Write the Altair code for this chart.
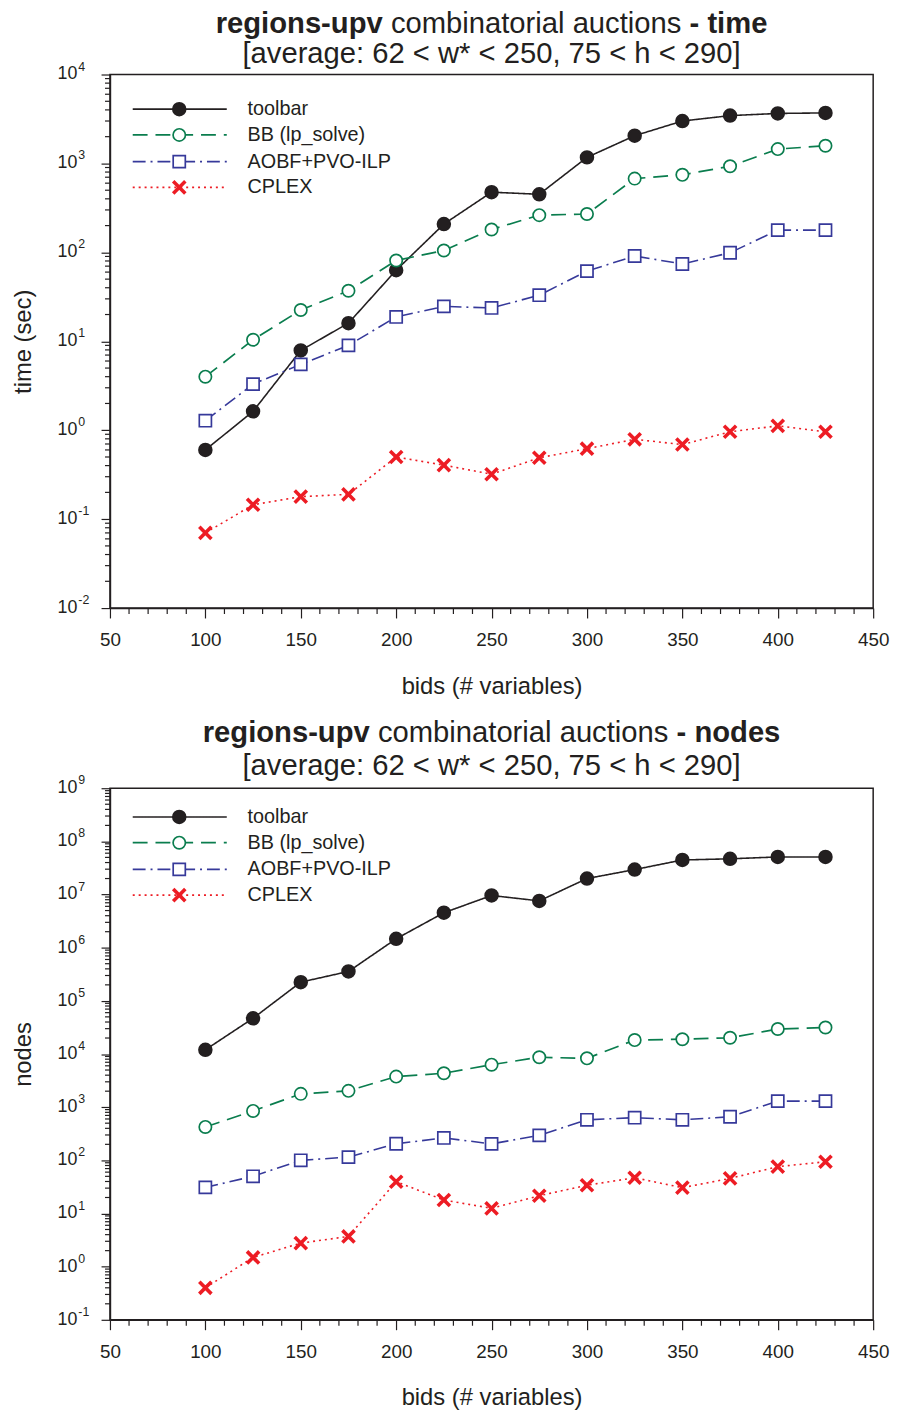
import altair as alt
import pandas as pd

# ---------------- data ----------------
bids = [100, 125, 150, 175, 200, 225, 250, 275, 300, 325, 350, 375, 400, 425]
series_names = ["toolbar", "BB (lp_solve)", "AOBF+PVO-ILP", "CPLEX"]

time_toolbar = [0.60, 1.63, 7.9, 16, 63, 208, 475, 450, 1170, 2050, 3000, 3450, 3650, 3700]
time_bb = [4.0, 10.4, 22.5, 37, 81, 105, 181, 262, 270, 675, 745, 930, 1450, 1580]
time_aobf = [1.28, 3.3, 5.5, 9.0, 18.8, 24.7, 23.7, 33, 61.5, 91, 74, 99, 178, 178]
time_cplex = [0.070, 0.145, 0.179, 0.19, 0.50, 0.405, 0.32, 0.49, 0.62, 0.79, 0.69, 0.96, 1.12, 0.96]

nodes_toolbar = [12000, 47000, 225000, 357000, 1.47e6, 4.55e6, 9.6e6, 7.6e6, 2.0e7, 2.95e7, 4.47e7, 4.7e7, 5.1e7, 5.1e7]
nodes_bb = [425, 850, 1780, 2030, 3760, 4350, 6300, 8700, 8300, 18300, 19000, 20200, 29500, 31500]
nodes_aobf = [31, 50, 100, 115, 205, 264, 204, 295, 578, 635, 578, 660, 1300, 1300]
nodes_cplex = [0.40, 1.49, 2.77, 3.7, 39.6, 17.9, 12.5, 21.6, 34, 47, 30.6, 45.7, 76, 94]

x_ticks_major = [50, 100, 150, 200, 250, 300, 350, 400, 450]
x_ticks_minor = [v for v in range(50, 451, 10) if v % 50 != 0]

# ---------------- styling ----------------
INK = "#231F20"
FONT = "Liberation Sans"
W = 771

styles = {
    "toolbar": dict(color=INK, dash=[1, 0], shape="circle", fill=INK, size=170, sw=1.6, lw=1.6),
    "BB (lp_solve)": dict(color="#0A7D4E", dash=[15, 8], shape="circle", fill="white", size=155, sw=1.7, lw=1.7),
    "AOBF+PVO-ILP": dict(color="#36399A", dash=[13, 5, 2, 5], shape="square", fill="white", size=150, sw=1.7, lw=1.6),
    "CPLEX": dict(color="#ED1C24", dash=[2, 4], shape="M-1,-1L1,1M1,-1L-1,1", fill=None, size=150, sw=3.6, lw=1.6),
}

# Arial / Liberation Sans advance widths (per 1000 em)
REG = {" ": 278, "a": 556, "b": 556, "c": 500, "d": 556, "e": 556, "i": 222, "l": 222,
       "m": 833, "n": 556, "o": 556, "r": 333, "s": 500, "t": 278, "u": 556}
BOLD = {" ": 278, "r": 389, "e": 556, "g": 611, "i": 278, "o": 611, "n": 611, "s": 556,
        "-": 333, "u": 611, "p": 611, "v": 556, "t": 333, "m": 889, "d": 611}


def tw(s, table, fs):
    return sum(table.get(ch, 556) for ch in s) * fs / 1000.0


def one_row_text(txt):
    return alt.Chart(pd.DataFrame({"t": [txt]}))


def marker_kw(st):
    kw = dict(shape=st["shape"], size=st["size"], stroke=st["color"], strokeWidth=st["sw"], opacity=1)
    if st["fill"] is None:
        kw.update(filled=False, fillOpacity=0)
    else:
        kw.update(filled=True, fill=st["fill"])
    return kw


def panel(vals, ytitle, e_lo, e_hi, H, bold2, legend_rows, t1y, t2y):
    df = pd.DataFrame({
        "bids": bids * 4,
        "value": vals[0] + vals[1] + vals[2] + vals[3],
        "series": sum([[s] * len(bids) for s in series_names], []),
    })
    xs = alt.Scale(domain=[50, 450], nice=False, zero=False)
    ys = alt.Scale(type="log", domain=[10.0 ** e_lo, 10.0 ** e_hi], nice=False)
    y_major = [float(f"1e{e}") for e in range(e_lo, e_hi + 1)]
    y_minor = [float(f"{n}e{k}") for k in range(e_lo, e_hi) for n in range(2, 10)]

    x_axis = alt.Axis(
        values=x_ticks_major, tickSize=10,
        labelFontSize=19, labelFont=FONT, labelColor=INK, labelPadding=13,
        labelOverlap=False, labelFlush=False,
        tickColor=INK, tickWidth=1.2, domainColor=INK, domainWidth=1.5, grid=False,
        title="bids (# variables)", titleFontSize=24, titleFont=FONT, titleFontWeight="normal",
        titleColor=INK, titlePadding=25,
    )
    y_axis = alt.Axis(
        values=y_major, labels=False, tickSize=9,
        tickColor=INK, tickWidth=1.2, domainColor=INK, domainWidth=1.5, grid=False,
        title=ytitle, titleFontSize=24, titleFont=FONT, titleFontWeight="normal",
        titleColor=INK, titlePadding=66,
    )

    def X(f):
        return alt.X(f, scale=xs, axis=x_axis)

    def Y(f):
        return alt.Y(f, scale=ys, axis=y_axis)

    layers = []
    # minor ticks (drawn from the scales)
    layers.append(alt.Chart(pd.DataFrame({"m": x_ticks_minor})).mark_rule(color=INK, strokeWidth=1.2).encode(
        x=X("m:Q"), y=alt.value(H), y2=alt.value(H + 6)))
    layers.append(alt.Chart(pd.DataFrame({"m": y_minor})).mark_rule(color=INK, strokeWidth=1.2).encode(
        y=Y("m:Q"), x=alt.value(0), x2=alt.value(-5)))

    for s in series_names:
        st = styles[s]
        sub = df[df["series"] == s]
        layers.append(alt.Chart(sub).mark_line(color=st["color"], strokeWidth=st["lw"],
                                               strokeDash=st["dash"]).encode(
            x=X("bids:Q"), y=Y("value:Q")))
    for s in series_names:
        st = styles[s]
        sub = df[df["series"] == s]
        layers.append(alt.Chart(sub).mark_point(**marker_kw(st)).encode(
            x=X("bids:Q"), y=Y("value:Q")))

    # y tick labels: 10 with superscript exponent
    exps = list(range(e_lo, e_hi + 1))
    dl = pd.DataFrame({"v": [float(f"1e{e}") for e in exps], "e": [str(e) for e in exps]})
    layers.append(alt.Chart(dl).mark_text(align="right", baseline="middle", fontSize=18,
                                          font=FONT, color=INK).encode(
        x=alt.value(-33), y=Y("v:Q"), text=alt.value("10")))
    layers.append(alt.Chart(dl).mark_text(align="left", baseline="middle", fontSize=12.5,
                                          font=FONT, color=INK, dy=-8).encode(
        x=alt.value(-32), y=Y("v:Q"), text="e:N"))

    # legend
    for i, s in enumerate(series_names):
        st = styles[s]
        ry = legend_rows[i]
        layers.append(one_row_text(s).mark_rule(color=st["color"], strokeWidth=st["lw"],
                                                strokeDash=st["dash"]).encode(
            x=alt.value(23), x2=alt.value(118), y=alt.value(ry)))
        layers.append(one_row_text(s).mark_point(**marker_kw(st)).encode(x=alt.value(70), y=alt.value(ry)))
        layers.append(one_row_text(s).mark_text(align="left", baseline="middle", fontSize=20,
                                                font=FONT, color=INK).encode(
            x=alt.value(139), y=alt.value(ry), text="t:N"))

    # title (mixed weight)
    fs = 29.5
    b1 = "regions-upv"
    mid = "combinatorial auctions"
    w1 = tw(b1, BOLD, fs)
    wm = tw(mid, REG, fs)
    w2 = tw(bold2, BOLD, fs)
    sp = 278 * fs / 1000.0
    total = w1 + sp + wm + sp + w2
    left = W / 2.0 - total / 2.0
    pieces = [(b1, "bold", left), (mid, "normal", left + w1 + sp), (bold2, "bold", left + w1 + sp + wm + sp)]
    for txt, wt, px in pieces:
        layers.append(one_row_text(txt).mark_text(align="left", baseline="alphabetic", fontSize=fs,
                                                  fontWeight=wt, font=FONT, color=INK).encode(
            x=alt.value(px), y=alt.value(t1y), text="t:N"))
    layers.append(one_row_text("[average: 62 < w* < 250, 75 < h < 290]").mark_text(
        align="center", baseline="alphabetic", fontSize=fs, font=FONT, color=INK).encode(
        x=alt.value(W / 2.0), y=alt.value(t2y), text="t:N"))

    return alt.layer(*layers).properties(width=W, height=H)


top = panel([time_toolbar, time_bb, time_aobf, time_cplex], "time (sec)", -2, 4, 539,
            "- time", [35, 61, 88, 114], -42, -12)
bottom = panel([nodes_toolbar, nodes_bb, nodes_aobf, nodes_cplex], "nodes", -1, 9, 537,
               "- nodes", [29, 55, 82, 108], -47, -13)

chart = alt.vconcat(top, bottom, spacing=18).properties(
    padding={"left": 2, "top": -7, "right": 0, "bottom": 0}, background="white"
).configure_view(stroke=INK, strokeWidth=1.5)

chart.save("out.html", embed_options={"renderer": "svg", "actions": False})
